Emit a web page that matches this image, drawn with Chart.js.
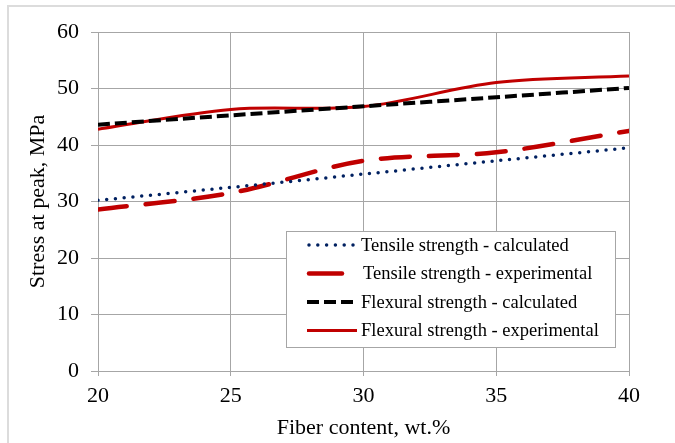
<!DOCTYPE html>
<html>
<head>
<meta charset="utf-8">
<script src="https://cdn.jsdelivr.net/npm/chart.js@4/dist/chart.umd.min.js"></script>
<style>
  html, body { margin: 0; padding: 0; background: #fff; overflow: hidden; }
  #frame { position: absolute; left: 7px; top: 5px; width: 700px; height: 500px; border: 2px solid #dcdcdc; }
  #chart { position: absolute; left: 0; top: 0; }
</style>
</head>
<body>
<div id="frame"></div>
<canvas id="chart" width="675" height="443"></canvas>
<script>
// Data
const fiberContent = [20, 25, 30, 35, 40];
const tensileCalculated = [30.2, 32.5, 34.85, 37.2, 39.5];
const tensileExperimental = [28.6, 31.5, 37.2, 38.7, 42.5];
const flexuralCalculated = [43.6, 45.25, 46.85, 48.45, 50.1];
const flexuralExperimental = [42.8, 46.3, 46.8, 51.05, 52.2];

const seriesLabels = [
  "Tensile strength - calculated",
  "Tensile strength - experimental",
  "Flexural strength - calculated",
  "Flexural strength - experimental"
];

const SERIF = "'Liberation Serif', 'Times New Roman', serif";
const GRID = "#a6a6a6";

function points(ys) {
  return fiberContent.map((x, i) => ({ x: x, y: ys[i] }));
}

// Legend drawn inside the plot, like the original
const insideLegend = {
  id: "insideLegend",
  afterDatasetsDraw(chart) {
    const ctx = chart.ctx;
    const ca = chart.chartArea;
    const bx = ca.left + 188, by = ca.top + 199, bw = 329, bh = 116;
    ctx.save();
    ctx.fillStyle = "#fff";
    ctx.fillRect(bx, by, bw, bh);
    ctx.strokeStyle = GRID;
    ctx.lineWidth = 1;
    ctx.strokeRect(bx + 0.5, by + 0.5, bw, bh);

    const rowY = [14, 42.5, 71, 99.5];
    const sampleEnd = [69, 56, 69, 71];
    const textX = [75, 77, 75, 75];
    chart.data.datasets.forEach((ds, i) => {
      const y = by + rowY[i];
      const x0 = bx + 21;
      ctx.beginPath();
      ctx.strokeStyle = ds.borderColor;
      ctx.lineWidth = ds.borderWidth;
      ctx.lineCap = ds.borderCapStyle || "butt";
      ctx.setLineDash(i === 1 ? [] : (ds.borderDash || []));
      ctx.moveTo(x0 + (ds.borderCapStyle === "round" ? 2 : 0), y);
      ctx.lineTo(bx + sampleEnd[i], y);
      ctx.stroke();
      ctx.setLineDash([]);
      ctx.fillStyle = "#000";
      ctx.font = "18.5px " + SERIF;
      ctx.textBaseline = "middle";
      ctx.textAlign = "left";
      ctx.fillText(ds.label, bx + textX[i], y + 1);
    });
    ctx.restore();
  }
};

new Chart(document.getElementById("chart"), {
  type: "line",
  data: {
    datasets: [
      {
        label: seriesLabels[0],
        data: points(tensileCalculated),
        borderColor: "#002060",
        borderWidth: 3.5,
        borderDash: [0, 8.8],
        borderCapStyle: "round"
      },
      {
        label: seriesLabels[1],
        data: points(tensileExperimental),
        borderColor: "#c00000",
        borderWidth: 4.5,
        borderDash: [29, 19],
        borderCapStyle: "round"
      },
      {
        label: seriesLabels[2],
        data: points(flexuralCalculated),
        borderColor: "#000000",
        borderWidth: 4,
        borderDash: [12, 5],
        borderCapStyle: "butt"
      },
      {
        label: seriesLabels[3],
        data: points(flexuralExperimental),
        borderColor: "#c00000",
        borderWidth: 3,
        borderCapStyle: "butt"
      }
    ]
  },
  options: {
    responsive: false,
    animation: false,
    devicePixelRatio: 1,
    layout: { padding: { top: 32, right: 46, left: 0, bottom: 0 } },
    elements: {
      point: { radius: 0, hoverRadius: 0 },
      line: { tension: 0.33, fill: false }
    },
    plugins: {
      legend: { display: false },
      tooltip: { enabled: false }
    },
    scales: {
      x: {
        type: "linear",
        min: 20,
        max: 40,
        ticks: { stepSize: 5, color: "#000", padding: 7, font: { family: SERIF, size: 22 } },
        grid: { color: GRID, tickLength: 5 },
        border: { color: GRID },
        title: {
          display: true,
          text: "Fiber content, wt.%",
          color: "#000",
          font: { family: SERIF, size: 22 },
          padding: { top: 0, bottom: 2 }
        },
        afterFit(scale) { scale.height = 72; }
      },
      y: {
        min: 0,
        max: 60,
        ticks: { stepSize: 10, color: "#000", padding: 12, font: { family: SERIF, size: 22 } },
        grid: { color: GRID, tickLength: 7 },
        border: { color: GRID },
        title: {
          display: true,
          text: "Stress at peak, MPa",
          color: "#000",
          font: { family: SERIF, size: 22 },
          padding: { top: 25, bottom: 0 }
        },
        afterFit(scale) { scale.width = 98; }
      }
    }
  },
  plugins: [insideLegend]
});
</script>
</body>
</html>
